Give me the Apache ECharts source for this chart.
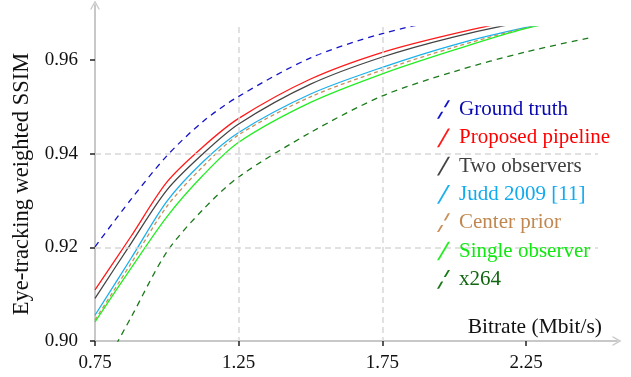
<!DOCTYPE html>
<html>
<head>
<meta charset="utf-8">
<script src="https://cdn.jsdelivr.net/npm/echarts@6/dist/echarts.min.js"></script>
<style>
  html, body { margin: 0; padding: 0; background: #fff; }
  #chart { width: 631px; height: 377px; }
</style>
</head>
<body>
<div id="chart"></div>
<script>
const bitrate = [0.75, 0.875, 1.0, 1.125, 1.25, 1.5, 1.75, 2.0, 2.25, 2.5]
const groundTruth = [0.9201, 0.9302, 0.9395, 0.9468, 0.9522, 0.9604, 0.9656, 0.969, 0.9715, 0.9735]
const proposed = [0.9109, 0.9223, 0.9339, 0.9414, 0.9475, 0.9559, 0.9616, 0.9656, 0.9688, 0.9712]
const twoObservers = [0.9091, 0.9208, 0.9322, 0.9399, 0.9463, 0.9548, 0.9606, 0.9649, 0.9682, 0.9706]
const judd = [0.9055, 0.9176, 0.9298, 0.9382, 0.9445, 0.9527, 0.9584, 0.9632, 0.9669, 0.9698]
const centerPrior = [0.9045, 0.9165, 0.9287, 0.9372, 0.944, 0.9521, 0.9578, 0.9627, 0.9668, 0.9698]
const singleObserver = [0.9041, 0.9155, 0.9265, 0.9353, 0.9424, 0.9509, 0.957, 0.9621, 0.9667, 0.9697]
const x264Rates = [0.75, 0.875, 1.0, 1.125, 1.25, 1.5, 1.75, 2.0, 2.25, 2.48]
const x264 = [0.891, 0.905, 0.919, 0.928, 0.935, 0.9445, 0.9523, 0.9575, 0.9617, 0.9648]

const xTicks = [0.75, 1.25, 1.75, 2.25]
const yTicks = [0.9, 0.92, 0.94, 0.96]

const FONT = '"Liberation Serif", "DejaVu Serif", serif'
const AXIS_GRAY = '#c8c8c8'
const ICON_SOLID = 'path://M0,18 L10.5,0 L12.5,0 L2,18 Z'
const ICON_DASHED = 'path://M0,18 L4,11.2 L6,11.2 L2,18 Z M6.5,6.8 L10.5,0 L12.5,0 L8.5,6.8 Z'
const CHEVRON = 'path://M5,0 L10,9 L8.6,9 L5,2.6 L1.4,9 L0,9 Z'

const pairs = (xs, ys) => xs.map((x, i) => [x, ys[i]])

const curves = [
  { name: 'Ground truth', xs: bitrate, ys: groundTruth, color: '#1414c8', text: '#0a0ab0', dash: [6, 5] },
  { name: 'Proposed pipeline', xs: bitrate, ys: proposed, color: '#ff1a1a', text: '#ff0000', dash: null },
  { name: 'Two observers', xs: bitrate, ys: twoObservers, color: '#444444', text: '#404040', dash: null },
  { name: 'Judd 2009 [11]', xs: bitrate, ys: judd, color: '#1ab0ee', text: '#10aaee', dash: null },
  { name: 'Center prior', xs: bitrate, ys: centerPrior, color: '#c8905a', text: '#c08850', dash: [4, 3] },
  { name: 'Single observer', xs: bitrate, ys: singleObserver, color: '#22ee22', text: '#10e810', dash: null },
  { name: 'x264', xs: x264Rates, ys: x264, color: '#1a7a1a', text: '#126612', dash: [6, 5] },
]

const splitLine = {
  show: true,
  showMinLine: false,
  showMaxLine: false,
  lineStyle: { color: '#d8d8d8', width: 1.5, type: [6, 4] },
}

const option = {
  animation: false,
  backgroundColor: '#fff',
  textStyle: { fontFamily: FONT },
  grid: [
    { left: 95, top: 27, width: 503, height: 314 },
    { left: 95, top: 5, width: 522, height: 336 },
  ],
  xAxis: [
    {
      gridIndex: 0,
      type: 'value',
      min: 0.75,
      max: 2.5,
      interval: 0.5,
      z: 3,
      name: 'Bitrate (Mbit/s)',
      nameLocation: 'end',
      nameGap: 4,
      nameTextStyle: {
        fontFamily: FONT, fontSize: 21.5, color: '#111',
        align: 'right', verticalAlign: 'bottom', padding: [0, 0, 3, 0],
      },
      axisLine: { show: false },
      axisTick: { show: true, length: 5, customValues: xTicks, lineStyle: { color: '#222', width: 1.5 } },
      axisLabel: {
        customValues: xTicks, margin: 13, fontFamily: FONT, fontSize: 19, color: '#111',
        formatter: (v) => v.toFixed(2),
      },
      splitLine: splitLine,
    },
    {
      gridIndex: 1,
      type: 'value',
      min: 0,
      max: 1,
      z: 1,
      axisLine: {
        show: true, onZero: false, symbol: ['none', CHEVRON], symbolSize: [10, 9],
        lineStyle: { color: AXIS_GRAY, width: 2 },
      },
      axisTick: { show: false },
      axisLabel: { show: false },
      splitLine: { show: false },
    },
  ],
  yAxis: [
    {
      gridIndex: 0,
      type: 'value',
      min: 0.9,
      max: 0.967,
      interval: 0.02,
      z: 3,
      name: 'Eye-tracking weighted SSIM',
      nameLocation: 'middle',
      nameGap: 60,
      nameTextStyle: { fontFamily: FONT, fontSize: 22.5, color: '#111' },
      axisLine: { show: false },
      axisTick: { show: true, length: 5, customValues: yTicks, lineStyle: { color: '#222', width: 1.5 } },
      axisLabel: {
        customValues: yTicks, margin: 17, fontFamily: FONT, fontSize: 19, color: '#111',
        formatter: (v) => v.toFixed(2),
      },
      splitLine: splitLine,
    },
    {
      gridIndex: 1,
      type: 'value',
      min: 0,
      max: 1,
      z: 1,
      axisLine: {
        show: true, onZero: false, symbol: ['none', CHEVRON], symbolSize: [10, 9],
        lineStyle: { color: AXIS_GRAY, width: 2 },
      },
      axisTick: { show: false },
      axisLabel: { show: false },
      splitLine: { show: false },
    },
  ],
  legend: {
    orient: 'vertical',
    left: 432,
    top: 94,
    itemWidth: 13,
    itemHeight: 19,
    itemGap: 7.3,
    textStyle: { fontFamily: FONT, fontSize: 21, lineHeight: 20, padding: [0, 0, 0, 4] },
    data: curves.map((c) => ({
      name: c.name,
      icon: c.dash ? ICON_DASHED : ICON_SOLID,
      textStyle: { color: c.text },
    })),
  },
  series: curves.map((c) => ({
    name: c.name,
    type: 'line',
    xAxisIndex: 0,
    yAxisIndex: 0,
    data: pairs(c.xs, c.ys),
    showSymbol: false,
    symbol: 'none',
    smooth: 0.3,
    clip: true,
    z: 2,
    itemStyle: { color: c.color },
    lineStyle: { color: c.color, width: 1.3, type: c.dash || 'solid' },
  })),
}

const chart = echarts.init(document.getElementById('chart'), null, { renderer: 'canvas' })
chart.setOption(option)
</script>
</body>
</html>
